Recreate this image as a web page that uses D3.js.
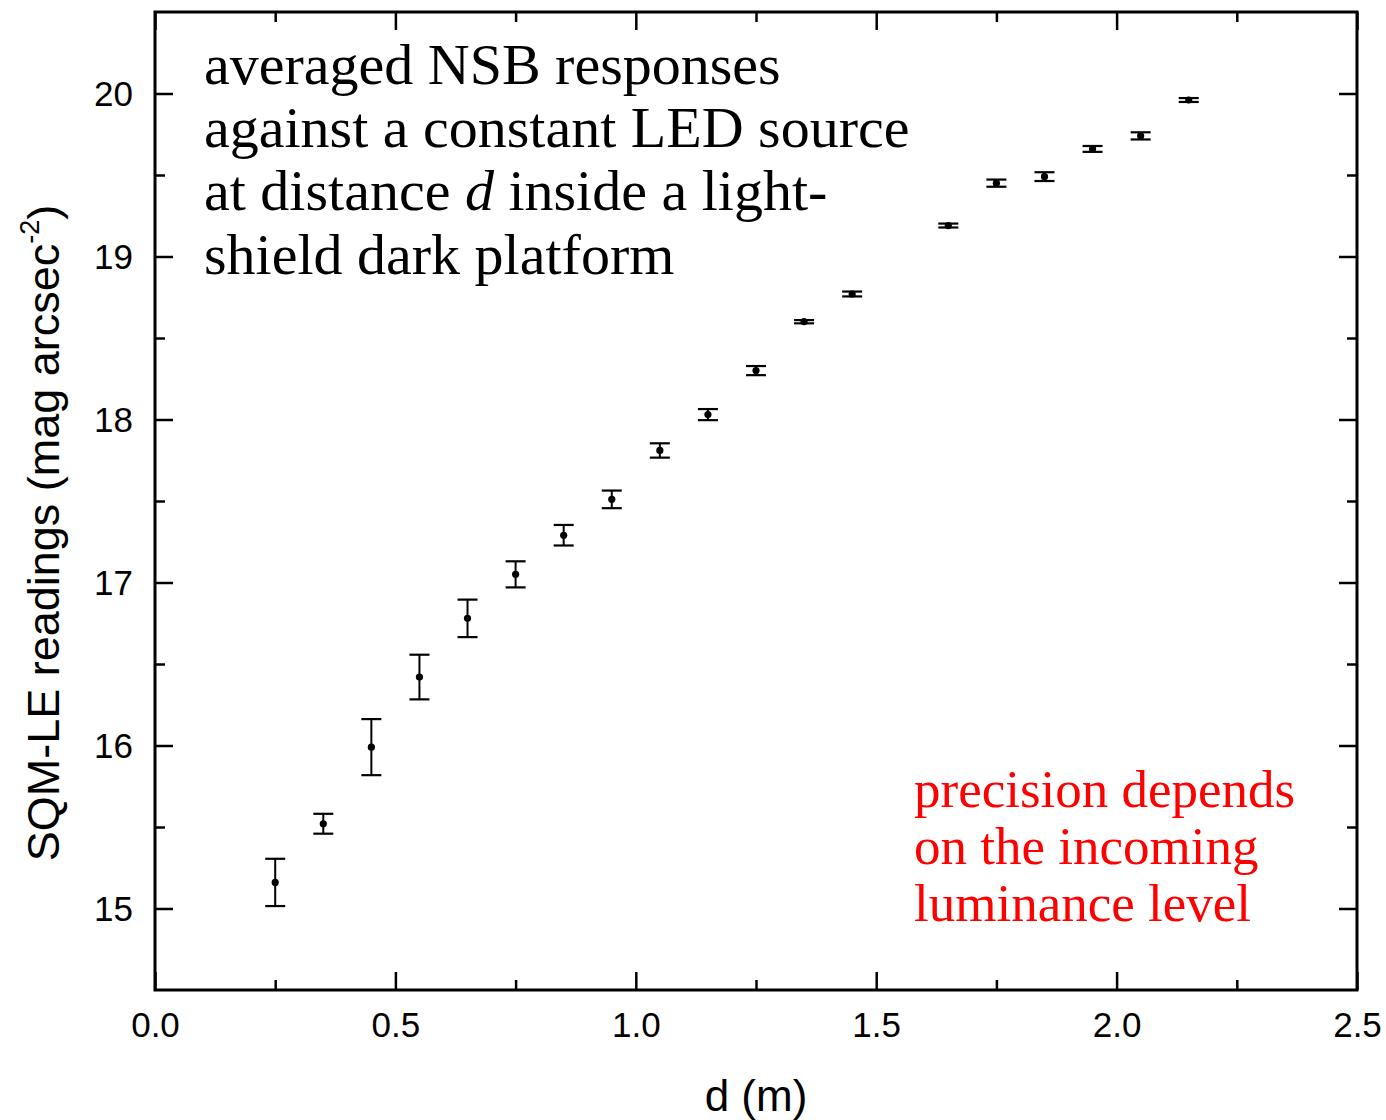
<!DOCTYPE html>
<html>
<head>
<meta charset="utf-8">
<script src="https://cdn.jsdelivr.net/npm/d3@7"></script>
<style>
  html, body { margin: 0; padding: 0; background: #fff; }
  svg { display: block; }
</style>
</head>
<body>
<svg id="chart" width="1386" height="1120"></svg>
<script>
// ---- data ----
const distance = [0.25, 0.35, 0.45, 0.55, 0.65, 0.75, 0.85, 0.95, 1.05, 1.15, 1.25, 1.35, 1.45, 1.65, 1.75, 1.85, 1.95, 2.05, 2.15];
const reading  = [15.16, 15.52, 15.99, 16.42, 16.78, 17.05, 17.29, 17.51, 17.81, 18.03, 18.30, 18.60, 18.77, 19.19, 19.45, 19.49, 19.66, 19.74, 19.96];
const errorBar = [0.145, 0.061, 0.172, 0.137, 0.115, 0.080, 0.063, 0.054, 0.044, 0.034, 0.028, 0.010, 0.015, 0.012, 0.022, 0.027, 0.018, 0.022, 0.012];
const xMajorTicks = [0, 0.5, 1.0, 1.5, 2.0, 2.5];
const xMinorTicks = [0.25, 0.75, 1.25, 1.75, 2.25];
const yMajorTicks = [15, 16, 17, 18, 19, 20];
const yMinorTicks = [15.5, 16.5, 17.5, 18.5, 19.5];
const xTitle = "d (m)";
const yTitle = "SQM-LE readings (mag arcsec";
const noteBlack = ["averaged NSB responses", "against a constant LED source", ["at distance ", "d", " inside a light-"], "shield dark platform"];
const noteRed = ["precision depends", "on the incoming", "luminance level"];

// ---- layout ----
const svg = d3.select("#chart");
const L = 155, T = 12, W = 1202, H = 978;
const x = d3.scaleLinear().domain([0, 2.5]).range([L, L + W]);
const y = d3.scaleLinear().domain([14.5, 20.5]).range([T + H, T]);
const sans = "'Liberation Sans', Arial, sans-serif";
const serif = "'Liberation Serif', 'Times New Roman', serif";

function styleAxis(g, showLabels, anchor) {
  g.select(".domain").remove();
  g.selectAll(".tick line").attr("stroke", "#000").attr("stroke-width", 2.5);
  if (!showLabels) g.selectAll(".tick text").remove();
  else g.selectAll(".tick text").attr("font-family", sans).attr("font-size", 35).attr("fill", "#000");
}

// bottom
const gB = svg.append("g").attr("transform", `translate(0,${T + H})`)
  .call(d3.axisBottom(x).tickValues(xMajorTicks).tickSize(-18).tickPadding(22).tickFormat(d3.format(".1f")));
styleAxis(gB, true);
gB.selectAll(".tick text").attr("dy", "0.71em");
svg.append("g").attr("transform", `translate(0,${T + H})`)
  .call(d3.axisBottom(x).tickValues(xMinorTicks).tickSize(-10).tickFormat(""))
  .call(g => styleAxis(g, false));
// top
svg.append("g").attr("transform", `translate(0,${T})`)
  .call(d3.axisTop(x).tickValues(xMajorTicks).tickSize(-18).tickFormat(""))
  .call(g => styleAxis(g, false));
svg.append("g").attr("transform", `translate(0,${T})`)
  .call(d3.axisTop(x).tickValues(xMinorTicks).tickSize(-10).tickFormat(""))
  .call(g => styleAxis(g, false));
// left
const gL = svg.append("g").attr("transform", `translate(${L},0)`)
  .call(d3.axisLeft(y).tickValues(yMajorTicks).tickSize(-18).tickPadding(22).tickFormat(d3.format("d")));
styleAxis(gL, true);
gL.selectAll(".tick text").attr("dy", "0.35em");
svg.append("g").attr("transform", `translate(${L},0)`)
  .call(d3.axisLeft(y).tickValues(yMinorTicks).tickSize(-10).tickFormat(""))
  .call(g => styleAxis(g, false));
// right
svg.append("g").attr("transform", `translate(${L + W},0)`)
  .call(d3.axisRight(y).tickValues(yMajorTicks).tickSize(-18).tickFormat(""))
  .call(g => styleAxis(g, false));
svg.append("g").attr("transform", `translate(${L + W},0)`)
  .call(d3.axisRight(y).tickValues(yMinorTicks).tickSize(-10).tickFormat(""))
  .call(g => styleAxis(g, false));

// frame
svg.append("rect").attr("x", L).attr("y", T).attr("width", W).attr("height", H)
  .attr("fill", "none").attr("stroke", "#000").attr("stroke-width", 3);

// data
const pts = distance.map((d, i) => ({ d, v: reading[i], e: errorBar[i] }));
const gD = svg.append("g");
const capHalf = 10;
gD.selectAll("line.v").data(pts).join("line").attr("class", "v")
  .attr("x1", p => x(p.d)).attr("x2", p => x(p.d))
  .attr("y1", p => y(p.v - p.e)).attr("y2", p => y(p.v + p.e))
  .attr("stroke", "#000").attr("stroke-width", 2);
gD.selectAll("line.top").data(pts).join("line").attr("class", "top")
  .attr("x1", p => x(p.d) - capHalf).attr("x2", p => x(p.d) + capHalf)
  .attr("y1", p => y(p.v + p.e)).attr("y2", p => y(p.v + p.e))
  .attr("stroke", "#000").attr("stroke-width", 2.2);
gD.selectAll("line.bot").data(pts).join("line").attr("class", "bot")
  .attr("x1", p => x(p.d) - capHalf).attr("x2", p => x(p.d) + capHalf)
  .attr("y1", p => y(p.v - p.e)).attr("y2", p => y(p.v - p.e))
  .attr("stroke", "#000").attr("stroke-width", 2.2);
gD.selectAll("circle").data(pts).join("circle")
  .attr("cx", p => x(p.d)).attr("cy", p => y(p.v)).attr("r", 3.6).attr("fill", "#000");

// axis titles
svg.append("text").attr("x", L + W / 2).attr("y", 1111).attr("text-anchor", "middle")
  .attr("font-family", sans).attr("font-size", 44).attr("fill", "#000").text(xTitle);
const yt = svg.append("text").attr("transform", "translate(59,533) rotate(-90)")
  .attr("text-anchor", "middle").attr("font-family", sans).attr("font-size", 45).attr("fill", "#000");
yt.append("tspan").text(yTitle);
yt.append("tspan").attr("font-size", 27).attr("dy", -20).text("-2");
yt.append("tspan").attr("dy", 20).text(")");

// annotations
const nb = svg.append("g").attr("font-family", serif).attr("font-size", 58).attr("fill", "#000");
const blackBase = [84, 147, 210, 274];
noteBlack.forEach((line, i) => {
  const t = nb.append("text").attr("x", 204).attr("y", blackBase[i]);
  if (Array.isArray(line)) {
    line.forEach((s, j) => {
      const ts = t.append("tspan").text(s);
      if (j === 1) ts.attr("font-style", "italic");
    });
  } else t.text(line);
});
const nr = svg.append("g").attr("font-family", serif).attr("font-size", 53).attr("fill", "#ff0000");
const redBase = [807, 864, 921];
noteRed.forEach((line, i) => nr.append("text").attr("x", 914).attr("y", redBase[i]).text(line));
</script>
</body>
</html>
